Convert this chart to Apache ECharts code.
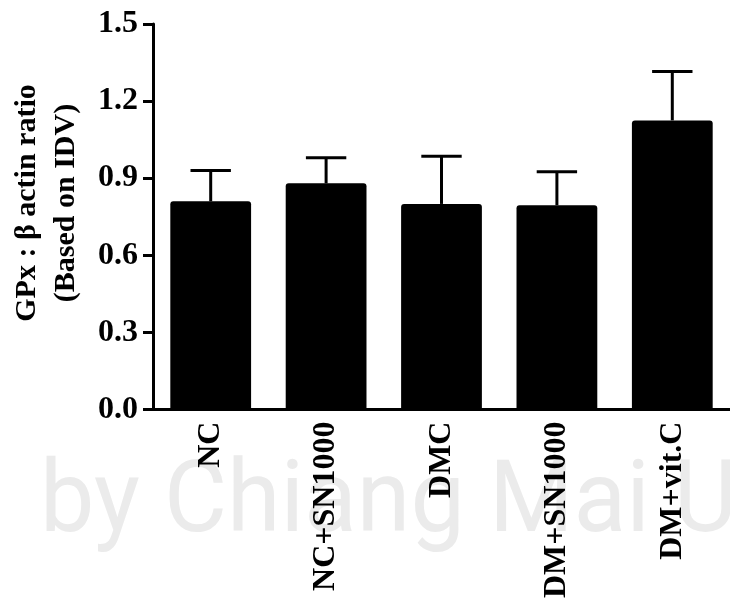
<!DOCTYPE html>
<html>
<head>
<meta charset="utf-8">
<script src="https://cdn.jsdelivr.net/npm/echarts@6/dist/echarts.min.js"></script>
<style>
  html, body { margin: 0; padding: 0; background: #fff; }
  #chart { width: 730px; height: 601px; }
</style>
</head>
<body>
<div id="chart"></div>
<script>
// Groups along the x axis
const categories = ['NC', 'NC+SN1000', 'DMC', 'DM+SN1000', 'DM+vit.C'];
// Mean GPx : beta-actin ratio per group
const means = [0.81, 0.88, 0.80, 0.795, 1.125];
// Upper error (SEM) per group
const errors = [0.12, 0.10, 0.185, 0.13, 0.19];
// Y axis range and step
const yMin = 0, yMax = 1.5, yStep = 0.3;

const serif = '"Liberation Serif", "Times New Roman", serif';

const chart = echarts.init(document.getElementById('chart'), null, { renderer: 'canvas' });

const errorData = means.map((m, i) => [i, m, m + errors[i]]);

chart.setOption({
  animation: false,
  backgroundColor: '#ffffff',
  grid: { left: 153, top: 24, width: 583, height: 388, containLabel: false },
  graphic: [
    {
      // faint background imprint
      type: 'text',
      z: -10,
      x: 40,
      y: 506,
      scaleX: 0.97,
      style: {
        text: 'by Chiang Mai University',
        font: '100px Roboto, "Open Sans", sans-serif',
        fill: '#ebebeb',
        verticalAlign: 'middle'
      }
    },
    {
      type: 'text',
      x: 47,
      y: 203,
      rotation: Math.PI / 2,
      style: {
        text: 'GPx : \u03b2 actin ratio\n(Based on IDV)',
        font: 'bold 30px ' + serif,
        fill: '#000',
        align: 'center',
        verticalAlign: 'middle',
        lineHeight: 39
      }
    }
  ],
  xAxis: {
    type: 'category',
    data: categories,
    axisLine: { show: true, lineStyle: { color: '#000', width: 3 } },
    axisTick: { show: false },
    axisLabel: {
      rotate: 90,
      margin: 12,
      color: '#000',
      fontFamily: serif,
      fontWeight: 'bold',
      fontSize: 32
    },
    splitLine: { show: false }
  },
  yAxis: {
    type: 'value',
    min: yMin,
    max: yMax,
    interval: yStep,
    axisLine: { show: true, lineStyle: { color: '#000', width: 3 } },
    axisTick: { show: true, inside: false, length: 10, lineStyle: { color: '#000', width: 3 } },
    axisLabel: {
      margin: 15,
      color: '#000',
      fontFamily: serif,
      fontWeight: 'bold',
      fontSize: 32,
      formatter: v => v.toFixed(1)
    },
    splitLine: { show: false }
  },
  series: [
    {
      type: 'bar',
      data: means,
      barWidth: '70%',
      itemStyle: { color: '#000', borderRadius: [3, 3, 0, 0] },
      z: 2
    },
    {
      type: 'custom',
      data: errorData,
      z: 3,
      renderItem: function (params, api) {
        const i = api.value(0);
        const base = api.coord([i, api.value(1)]);
        const top = api.coord([i, api.value(2)]);
        const barW = api.size([1, 0])[0] * 0.7;
        const capHalf = barW * 0.25;
        const style = { stroke: '#000', lineWidth: 3, fill: null };
        return {
          type: 'group',
          children: [
            { type: 'line', shape: { x1: base[0], y1: base[1], x2: top[0], y2: top[1] }, style: style },
            { type: 'line', shape: { x1: top[0] - capHalf, y1: top[1], x2: top[0] + capHalf, y2: top[1] }, style: style }
          ]
        };
      }
    }
  ]
});
</script>
</body>
</html>
